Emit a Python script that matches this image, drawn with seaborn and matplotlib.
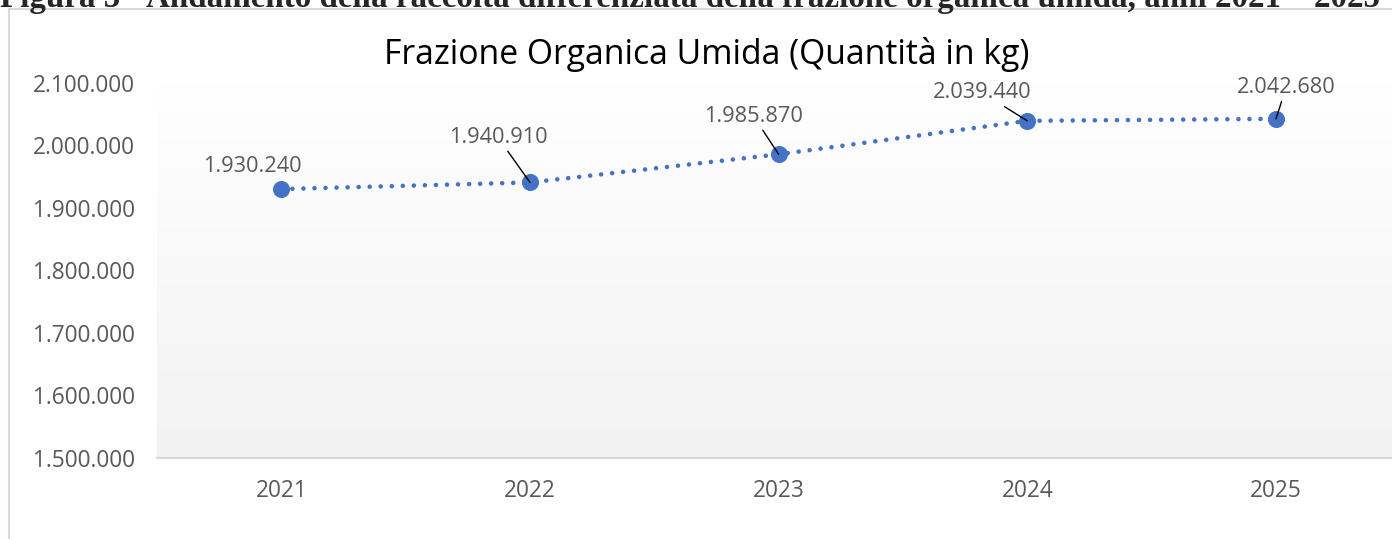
import numpy as np
import pandas as pd
import seaborn as sns
from matplotlib import pyplot as plt
from matplotlib.lines import Line2D

anni = [2021, 2022, 2023, 2024, 2025]
quantita = [1930240, 1940910, 1985870, 2039440, 2042680]
etichette = ["1.930.240", "1.940.910", "1.985.870", "2.039.440", "2.042.680"]
# offset delle etichette rispetto al punto (pixel)
off_x = [-29, -32, -25, -45, 10]
off_y = [23, 45, 38, 28, 31]
leader = [False, True, True, True, True]
y_ticks = [1500000, 1600000, 1700000, 1800000, 1900000, 2000000, 2100000]
y_tick_labels = ["1.500.000", "1.600.000", "1.700.000", "1.800.000",
                 "1.900.000", "2.000.000", "2.100.000"]

titolo = "Frazione Organica Umida (Quantità in kg)"
didascalia = ("Figura 5 - Andamento della raccolta differenziata della frazione "
              "organica umida, anni 2021 \u2013 2025")

blu = "#4472C4"
grigio = "#595959"

sns.set_style("white")
plt.rcParams["font.family"] = ["Open Sans", "DejaVu Sans"]

df = pd.DataFrame({"Anno": anni, "Quantita": quantita})

fig = plt.figure(figsize=(13.92, 5.39), dpi=100)
ax = fig.add_axes([157 / 1392, 81 / 539, 1 - 157 / 1392, 375 / 539])

# sfondo sfumato dell'area del grafico
grad = np.linspace(0, 1, 256).reshape(-1, 1)
ax.imshow(grad, extent=[0, 1, 0, 1], transform=ax.transAxes, aspect="auto",
          cmap=sns.blend_palette(["#f2f2f2", "#ffffff"], as_cmap=True),
          origin="lower", zorder=0)

sns.lineplot(data=df, x="Anno", y="Quantita", ax=ax, color=blu, lw=3.3,
             marker="o", markersize=11.5, markeredgecolor=blu,
             linestyle=(0, (0.01, 2.4)), dash_capstyle="round", zorder=3)

for x, y, t, dx, dy, ld in zip(anni, quantita, etichette, off_x, off_y, leader):
    kw = {}
    if ld:
        kw["arrowprops"] = dict(arrowstyle="-", color="black", lw=1,
                                shrinkA=0, shrinkB=0)
    ax.annotate(t, xy=(x, y), xytext=(dx, dy), textcoords="offset pixels",
                ha="center", va="center", fontsize=15.7, color=grigio, **kw)

ax.set_xlim(2020.5, 2025 + (1392 - 1276) / 248.6)
ax.set_ylim(1500000, 2100000)
ax.set_xticks(anni)
ax.set_xticklabels([str(a) for a in anni])
ax.set_yticks(y_ticks)
ax.set_yticklabels(y_tick_labels)
ax.tick_params(axis="y", length=0, pad=16, labelsize=16.3, labelcolor=grigio)
ax.tick_params(axis="x", length=0, pad=15, labelsize=16.3, labelcolor=grigio)
ax.set_xlabel("")
ax.set_ylabel("")
for s in ["top", "right", "left"]:
    ax.spines[s].set_visible(False)
ax.spines["bottom"].set_color("#d9d9d9")
ax.spines["bottom"].set_linewidth(1.5)

fig.text(707 / 1392, 1 - 55 / 539, titolo, ha="center", va="center",
         fontsize=24.3, color="black")

# cornice del grafico
fig.add_artist(Line2D([9 / 1392, 9 / 1392], [0, 1 - 9 / 539], color="#d9d9d9", lw=1.5))
fig.add_artist(Line2D([9 / 1392, 1], [1 - 9 / 539, 1 - 9 / 539], color="#d9d9d9", lw=1.5))

# didascalia tagliata in alto
fig.text(0, 1 - 7 / 539, didascalia, ha="left", va="baseline", fontsize=23.8,
         fontweight="bold", family=["Liberation Serif", "DejaVu Serif"])

fig.savefig("out.png", dpi=100)
